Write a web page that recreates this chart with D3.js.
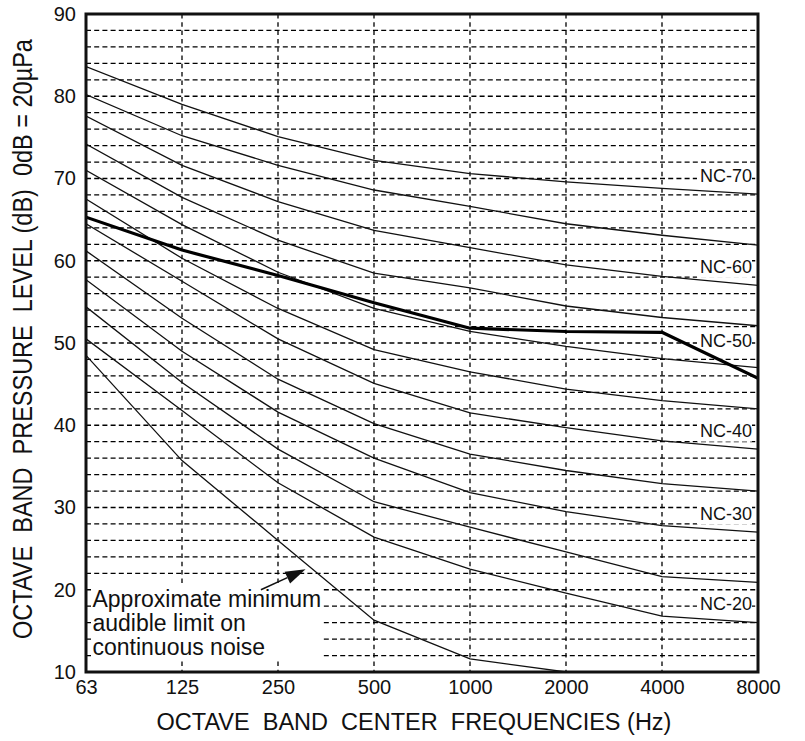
<!DOCTYPE html>
<html>
<head>
<meta charset="utf-8">
<script src="https://cdn.jsdelivr.net/npm/d3@7"></script>
<style>
  body { margin: 0; background: #fff; }
  svg { display: block; font-family: "Liberation Sans", Arial, Helvetica, sans-serif; }
  .pre { white-space: pre; }
</style>
</head>
<body>
<svg id="chart" width="805" height="741"></svg>
<script>
// octave band centres (62.5 is printed as 63)
const freqs = [62.5, 125, 250, 500, 1000, 2000, 4000, 8000];
const freqLabels = ["63", "125", "250", "500", "1000", "2000", "4000", "8000"];
const levelTicks = [10, 20, 30, 40, 50, 60, 70, 80, 90];

// NC curves, dB at each band
const nc70 = [83.6, 79.0, 75.1, 72.2, 70.6, 69.6, 68.8, 68.1];
const nc65 = [80.2, 75.2, 71.6, 68.6, 66.6, 64.5, 63.1, 61.9];
const nc60 = [77.6, 71.6, 67.2, 63.7, 61.6, 59.5, 58.1, 57.0];
const nc55 = [74.2, 67.7, 62.5, 58.5, 56.7, 54.5, 53.1, 52.1];
const nc50 = [71.0, 64.4, 58.6, 54.2, 51.4, 49.6, 48.1, 47.0];
const nc45 = [67.5, 60.3, 54.2, 49.2, 46.5, 44.4, 43.0, 42.0];
const nc40 = [64.5, 57.5, 50.5, 45.1, 41.5, 39.7, 38.1, 37.1];
const nc35 = [61.2, 53.0, 45.6, 40.2, 36.5, 34.5, 32.9, 32.0];
const nc30 = [57.7, 49.0, 41.6, 36.0, 31.8, 29.5, 27.8, 27.0];
const nc25 = [54.4, 45.2, 37.1, 30.7, 27.6, 24.6, 21.6, 20.9];
const nc20 = [50.5, 41.8, 33.0, 26.4, 22.5, 19.6, 16.8, 16.0];

// minimum audible limit (runs off the bottom after 2000 Hz)
const audibleLimit = [48.5, 35.7, 26.0, 16.3, 11.6, 10.0];
// the heavy measured spectrum
const measured = [65.3, 61.3, 58.2, 54.9, 51.8, 51.4, 51.3, 45.7];

const ncNames = ["NC-70", "NC-65", "NC-60", "NC-55", "NC-50", "NC-45", "NC-40", "NC-35", "NC-30", "NC-25", "NC-20"];
const ncValues = [nc70, nc65, nc60, nc55, nc50, nc45, nc40, nc35, nc30, nc25, nc20];
const ncLabelled = ["NC-70", "NC-60", "NC-50", "NC-40", "NC-30", "NC-20"];

const noteLines = ["Approximate minimum", "audible limit on", "continuous noise"];
const arrowFrom = { f: 221, v: 20 };
const arrowTo = { f: 305, v: 22.5 };

const svg = d3.select("#chart");
const width = +svg.attr("width");
const height = +svg.attr("height");
const margin = { top: 14, right: 47, bottom: 69, left: 86 };
const innerWidth = width - margin.left - margin.right;
const innerHeight = height - margin.top - margin.bottom;

const x = d3.scaleLog().base(2)
  .domain([62.5, 8000])
  .range([0, innerWidth]);

const y = d3.scaleLinear()
  .domain([10, 90])
  .range([innerHeight, 0]);

const g = svg.append("g")
  .attr("transform", `translate(${margin.left},${margin.top})`);

g.append("clipPath").attr("id", "plot")
  .append("rect").attr("width", innerWidth).attr("height", innerHeight);

// dashed grid, every 2 dB and every octave
g.append("g").selectAll("line")
  .data(d3.range(12, 90, 2))
  .enter().append("line")
    .attr("x1", 0).attr("x2", innerWidth)
    .attr("y1", d => y(d)).attr("y2", d => y(d))
    .attr("stroke", "#000").attr("stroke-width", 1.3)
    .attr("stroke-dasharray", "5,3.2");

g.append("g").selectAll("line")
  .data(freqs.slice(1, -1))
  .enter().append("line")
    .attr("x1", d => x(d)).attr("x2", d => x(d))
    .attr("y1", 0).attr("y2", innerHeight)
    .attr("stroke", "#000").attr("stroke-width", 1.3)
    .attr("stroke-dasharray", "4.5,3.8");

// white knock-outs behind the labels go over the grid, under the curves
const boxes = g.append("g");
const labels = g.append("g").attr("font-size", 18).attr("fill", "#111");

ncLabelled.forEach(name => {
  const vals = ncValues[ncNames.indexOf(name)];
  const shift = name === "NC-50" ? 27 : 19;
  labels.append("text")
    .attr("x", innerWidth - 6)
    .attr("y", y(vals[vals.length - 1]) - shift)
    .attr("dy", "0.36em")
    .attr("text-anchor", "end")
    .text(name);
});

const note = g.append("text")
  .attr("font-size", 23).attr("fill", "#111");
noteLines.forEach((t, i) => {
  note.append("tspan")
    .attr("x", x(65.5))
    .attr("y", y(17.9) + i * 24)
    .text(t);
});

labels.selectAll("text").each(function() {
  const b = this.getBBox();
  boxes.append("rect")
    .attr("x", b.x - 3).attr("y", b.y)
    .attr("width", b.width + 3).attr("height", b.height + 1)
    .attr("fill", "#fff");
});
const nb = note.node().getBBox();
boxes.append("rect")
  .attr("x", nb.x - 1).attr("y", nb.y)
  .attr("width", nb.width + 3).attr("height", nb.height)
  .attr("fill", "#fff");

const line = d3.line()
  .x((d, i) => x(freqs[i]))
  .y(d => y(d));

const curves = g.append("g").attr("clip-path", "url(#plot)").attr("fill", "none");

curves.selectAll("path.nc")
  .data(ncValues)
  .enter().append("path")
    .attr("class", "nc")
    .attr("d", line)
    .attr("stroke", "#111")
    .attr("stroke-width", 1.3);

curves.append("path")
  .attr("d", line(audibleLimit))
  .attr("stroke", "#111")
  .attr("stroke-width", 1.3);

curves.append("path")
  .attr("d", line(measured))
  .attr("stroke", "#000")
  .attr("stroke-width", 3.2)
  .attr("stroke-linejoin", "round");

// arrow to the audible limit curve
const ax1 = x(arrowFrom.f), ay1 = y(arrowFrom.v);
const ax2 = x(arrowTo.f), ay2 = y(arrowTo.v);
const ang = Math.atan2(ay2 - ay1, ax2 - ax1);
const headLen = 20, headHalf = 6.5;
const bx = ax2 - headLen * Math.cos(ang), by = ay2 - headLen * Math.sin(ang);
g.append("line")
  .attr("x1", ax1).attr("y1", ay1).attr("x2", bx).attr("y2", by)
  .attr("stroke", "#111").attr("stroke-width", 1.5);
g.append("path")
  .attr("d", d3.line()([
    [ax2, ay2],
    [bx - headHalf * Math.sin(ang), by + headHalf * Math.cos(ang)],
    [bx + headHalf * Math.sin(ang), by - headHalf * Math.cos(ang)]
  ]) + "Z")
  .attr("fill", "#111");

// axes: labels only, the frame is drawn separately
g.append("g")
  .call(d3.axisLeft(y).tickValues(levelTicks).tickSize(0).tickPadding(10))
  .call(s => s.select(".domain").remove())
  .selectAll("text")
    .attr("font-size", 20).attr("fill", "#111").attr("font-family", null);

g.append("g")
  .attr("transform", `translate(0,${innerHeight})`)
  .call(d3.axisBottom(x).tickValues(freqs).tickFormat((d, i) => freqLabels[i]).tickSize(0).tickPadding(8))
  .call(s => s.select(".domain").remove())
  .selectAll("text")
    .attr("font-size", 20).attr("fill", "#111").attr("font-family", null);

g.append("rect")
  .attr("width", innerWidth).attr("height", innerHeight)
  .attr("fill", "none").attr("stroke", "#111").attr("stroke-width", 3);

svg.append("text")
  .attr("class", "pre")
  .attr("x", margin.left + innerWidth / 2 - 8)
  .attr("y", 730)
  .attr("text-anchor", "middle")
  .attr("font-size", 23.5)
  .attr("fill", "#111")
  .text("OCTAVE  BAND  CENTER  FREQUENCIES (Hz)");

svg.append("text")
  .attr("class", "pre")
  .attr("transform", "translate(32,339) rotate(-90) scale(1,1.19)")
  .attr("text-anchor", "middle")
  .attr("font-size", 23.5)
  .attr("fill", "#111")
  .text("OCTAVE  BAND  PRESSURE  LEVEL (dB)  0dB = 20µPa");
</script>
</body>
</html>
